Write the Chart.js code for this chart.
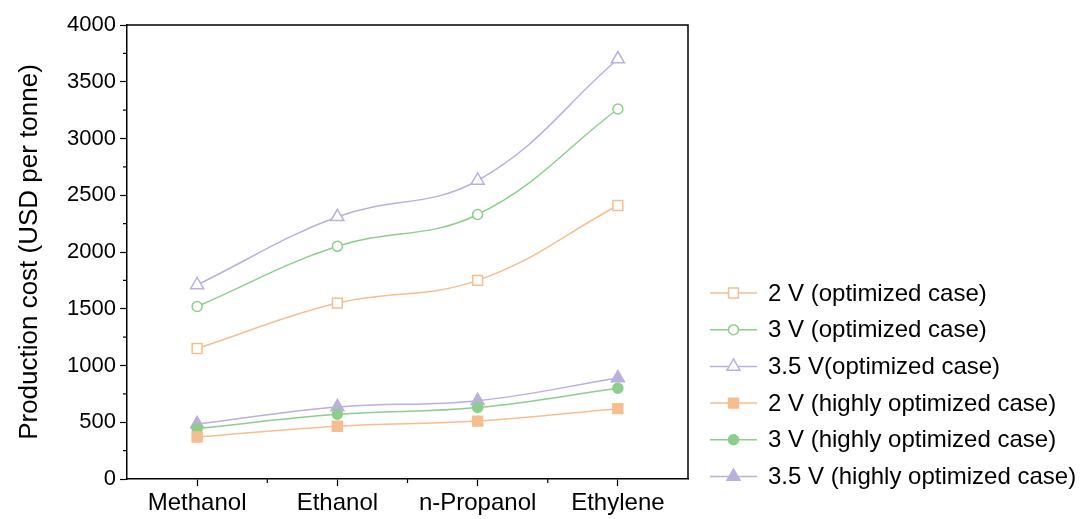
<!DOCTYPE html>
<html lang="en">
<head>
    <meta charset="UTF-8">
    <title>Production cost</title>
    <script src="https://cdn.jsdelivr.net/npm/chart.js"></script>
    <style>
        html, body { margin: 0; padding: 0; background: #fff; }
    </style>
</head>
<body>
    <canvas id="costChart" width="1082" height="519"></canvas>
    <script>
        const products = ['Methanol', 'Ethanol', 'n-Propanol', 'Ethylene'];
        const yTicks = [0, 500, 1000, 1500, 2000, 2500, 3000, 3500, 4000];

        const opt2V = [1150, 1550, 1750, 2410];
        const opt3V = [1520, 2050, 2330, 3260];
        const opt35V = [1710, 2310, 2630, 3700];
        const high2V = [370, 465, 510, 620];
        const high3V = [445, 570, 630, 800];
        const high35V = [485, 635, 690, 890];

        const seriesLabels = [
            '2 V (optimized case)',
            '3 V (optimized case)',
            '3.5 V(optimized case)',
            '2 V (highly optimized case)',
            '3 V (highly optimized case)',
            '3.5 V (highly optimized case)'
        ];

        const orange = 'rgb(246, 190, 142)';
        const green = 'rgb(140, 206, 140)';
        const purple = 'rgb(186, 176, 222)';
        const FONT = "'Liberation Sans', Arial, sans-serif";

        function series(label, data, color, style, radius, filled) {
            return {
                label: label,
                data: data,
                borderColor: color,
                borderWidth: 1.5,
                tension: 0.4,
                pointStyle: style,
                pointRadius: radius,
                pointBorderWidth: 1.5,
                pointBorderColor: color,
                pointBackgroundColor: filled ? color : '#fff',
                fill: false
            };
        }

        // minor ticks, top/right frame and the legend on the right side
        const extras = {
            id: 'extras',
            afterDraw(chart) {
                const ctx = chart.ctx;
                const area = chart.chartArea;
                const x = chart.scales.x;
                const y = chart.scales.y;
                ctx.save();
                ctx.strokeStyle = '#000';
                ctx.lineWidth = 1.5;
                ctx.beginPath();
                ctx.moveTo(area.left, area.top);
                ctx.lineTo(area.right, area.top);
                ctx.lineTo(area.right, area.bottom);
                ctx.stroke();

                ctx.lineWidth = 1.2;
                ctx.beginPath();
                for (let v = 250; v < 4000; v += 500) {
                    const py = y.getPixelForValue(v);
                    ctx.moveTo(area.left, py);
                    ctx.lineTo(area.left - 4, py);
                }
                for (let i = 0; i < products.length - 1; i++) {
                    const px = (x.getPixelForValue(i) + x.getPixelForValue(i + 1)) / 2;
                    ctx.moveTo(px, area.bottom);
                    ctx.lineTo(px, area.bottom + 4);
                }
                ctx.stroke();

                const lx = 710, ly = 293, step = 36.7;
                ctx.font = '24px ' + FONT;
                ctx.textBaseline = 'middle';
                ctx.textAlign = 'left';
                chart.data.datasets.forEach((ds, i) => {
                    const cy = ly + i * step;
                    ctx.strokeStyle = ds.borderColor;
                    ctx.lineWidth = 1.5;
                    ctx.beginPath();
                    ctx.moveTo(lx, cy);
                    ctx.lineTo(lx + 47, cy);
                    ctx.stroke();
                    ctx.fillStyle = ds.pointBackgroundColor;
                    Chart.helpers.drawPoint(ctx, {
                        pointStyle: ds.pointStyle,
                        radius: ds.pointRadius,
                        borderWidth: ds.pointBorderWidth,
                        rotation: 0
                    }, lx + 23.5, cy);
                    ctx.fillStyle = '#000';
                    ctx.fillText(ds.label, 768, cy + 1);
                });
                ctx.restore();
            }
        };

        const ctx = document.getElementById('costChart').getContext('2d');
        const chart = new Chart(ctx, {
            type: 'line',
            data: {
                labels: products,
                datasets: [
                    series(seriesLabels[0], opt2V, orange, 'rect', 7, false),
                    series(seriesLabels[1], opt3V, green, 'circle', 5, false),
                    series(seriesLabels[2], opt35V, purple, 'triangle', 7.5, false),
                    series(seriesLabels[3], high2V, orange, 'rect', 7, true),
                    series(seriesLabels[4], high3V, green, 'circle', 5, true),
                    series(seriesLabels[5], high35V, purple, 'triangle', 7.5, true)
                ]
            },
            options: {
                responsive: false,
                animation: false,
                layout: { padding: { top: 25, right: 394, left: 0, bottom: 0 } },
                plugins: {
                    legend: { display: false },
                    tooltip: { enabled: false }
                },
                scales: {
                    x: {
                        offset: true,
                        grid: { display: true, drawOnChartArea: false, offset: false, tickLength: 7, tickColor: '#000', tickWidth: 1.2 },
                        border: { color: '#000', width: 1.5 },
                        ticks: { color: '#000', padding: 3, font: { family: FONT, size: 24 } },
                        afterFit(scale) { scale.height = 40; }
                    },
                    y: {
                        min: 0,
                        max: 4000,
                        afterBuildTicks(scale) { scale.ticks = yTicks.map(v => ({ value: v })); },
                        grid: { display: true, drawOnChartArea: false, tickLength: 7, tickColor: '#000', tickWidth: 1.2 },
                        border: { color: '#000', width: 1.5 },
                        ticks: {
                            color: '#000',
                            padding: 4,
                            font: { family: FONT, size: 22 },
                            callback: v => String(v)
                        },
                        title: {
                            display: true,
                            text: 'Production cost (USD per tonne)',
                            color: '#000',
                            font: { family: FONT, size: 26 },
                            padding: { top: 14, bottom: 0 }
                        },
                        afterFit(scale) { scale.width = 127; }
                    }
                }
            },
            plugins: [extras]
        });
    </script>
</body>
</html>
